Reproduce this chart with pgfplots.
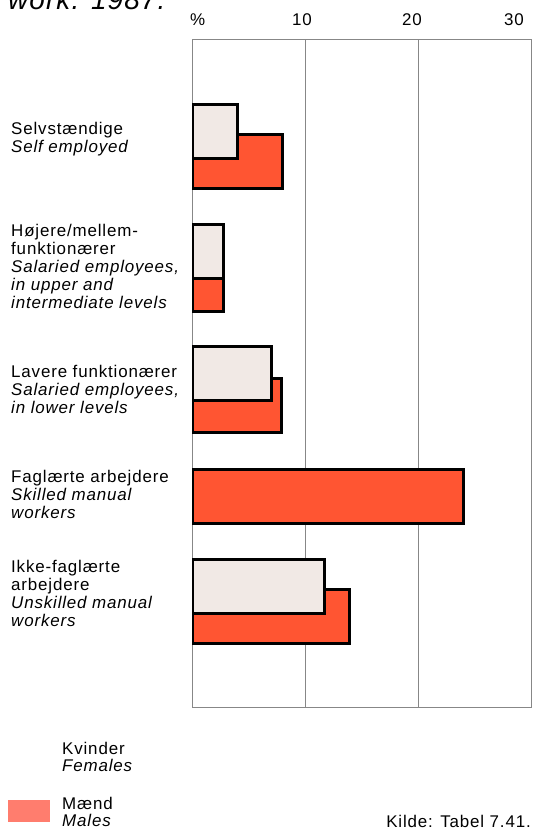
\documentclass[border=0pt]{standalone}
\usepackage{fontspec}
\setmainfont{Liberation Sans}
\usepackage{pgfplots}
\pgfplotsset{compat=1.18}
\definecolor{male}{RGB}{255,85,50}
\definecolor{female}{RGB}{241,233,229}
\definecolor{malekey}{RGB}{255,125,110}
\definecolor{frame}{RGB}{135,135,135}
\newcommand{\lab}{\fontsize{17}{18}\selectfont\addfontfeature{LetterSpace=5}}

\begin{document}
\begin{tikzpicture}
\useasboundingbox (0bp,0bp) rectangle (533bp,828bp);
\begin{axis}[
  at={(192bp,120bp)}, anchor=south west,
  width=339bp, height=668bp, scale only axis,
  xmin=0, xmax=30, ymin=-708, ymax=-40,
  xtick={10,20}, xticklabels={}, ytick=\empty,
  major tick length=0pt,
  xmajorgrids, grid style={frame, line width=1bp},
  axis line style={frame, line width=1bp},
  xbar, bar width=54, bar shift=0pt,
  every axis plot/.append style={draw=black, line width=3bp},
]
% men first, women overlap on top
\addplot[fill=male] coordinates {
 (8.0,-161.5) (2.8,-284.5) (7.9,-406) (24.0,-496.5) (13.9,-616.5)};
\addplot[fill=female] coordinates {
 (4.0,-132) (2.8,-252) (7.0,-373.5) (11.7,-587)};
\end{axis}

% top tick labels
\node[anchor=base west, inner sep=0, font=\lab] at (190bp,802bp) {\%};
\node[anchor=base, inner sep=0, font=\lab] at (302bp,802bp) {10};
\node[anchor=base, inner sep=0, font=\lab] at (412bp,802bp) {20};
\node[anchor=base, inner sep=0, font=\lab] at (514bp,802bp) {30};

% title, cut by the page edge
\node[anchor=base west, inner sep=0, font=\fontsize{28}{30}\selectfont\itshape\addfontfeature{LetterSpace=4}]
  at (8bp,818bp) {work. 1987.};

% category labels
\tikzset{cat/.style={anchor=north west, inner sep=0, align=left, font=\lab}}
\node[cat] at (11bp,706bp) {Selvstændige\\\textit{Self employed}};
\node[cat] at (11bp,604bp) {Højere/mellem-\\funktionærer\\\textit{Salaried employees,}\\\textit{in upper and}\\\textit{intermediate levels}};
\node[cat] at (11bp,463bp) {Lavere funktionærer\\\textit{Salaried employees,}\\\textit{in lower levels}};
\node[cat] at (11bp,358bp) {Faglærte arbejdere\\\textit{Skilled manual}\\\textit{workers}};
\node[cat] at (11bp,268bp) {Ikke-faglærte\\arbejdere\\\textit{Unskilled manual}\\\textit{workers}};

% key
\node[anchor=base west, inner sep=0, align=left, font=\lab] at (62bp,56bp) {Kvinder\\\textit{Females}};
\fill[malekey] (8bp,6bp) rectangle (50bp,28bp);
\node[anchor=base west, inner sep=0, align=left, font=\lab] at (62bp,1bp) {Mænd\\\textit{Males}};
\node[anchor=base east, inner sep=0, font=\lab] at (531bp,1bp) {Kilde: Tabel 7.41.};
\end{tikzpicture}
\end{document}
